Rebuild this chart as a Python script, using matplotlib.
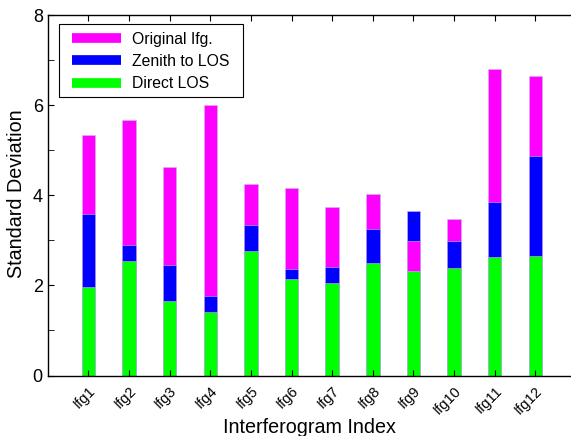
import matplotlib
matplotlib.use("Agg")
import matplotlib.pyplot as plt
from matplotlib.lines import Line2D
from matplotlib.patches import Rectangle
from matplotlib.ticker import MultipleLocator
import numpy as np

plt.rcParams['font.family'] = ['Liberation Sans', 'DejaVu Sans']

labels = ['Ifg1', 'Ifg2', 'Ifg3', 'Ifg4', 'Ifg5', 'Ifg6',
          'Ifg7', 'Ifg8', 'Ifg9', 'Ifg10', 'Ifg11', 'Ifg12']
original = [5.34, 5.68, 4.62, 6.01, 4.26, 4.17, 3.75, 4.03, 2.99, 3.48, 6.81, 6.64]
zenith = [3.59, 2.90, 2.46, 1.77, 3.34, 2.37, 2.40, 3.26, 3.64, 2.99, 3.84, 4.87]
direct = [1.96, 2.54, 1.66, 1.41, 2.77, 2.15, 2.06, 2.49, 2.32, 2.38, 2.63, 2.66]

series = [('Original Ifg.', original, '#ff00ff'),
          ('Zenith to LOS', zenith, '#0000ff'),
          ('Direct LOS', direct, '#00ff00')]

fig = plt.figure(figsize=(5.71, 4.36), dpi=100)
W, H = 571, 436
# one category step is about 40.64 px; the plot area runs off the right edge
left, top, bottom, step = 47.7, 15.0, 375.5, 40.64
right = 700.0
xmax = (right - left) / step
aw, ah = right - left, bottom - top
ax = fig.add_axes([left / W, 1 - bottom / H, aw / W, ah / H])

x = np.arange(1, len(labels) + 1)
width = 0.33
# overlapping bars: at each index draw the tallest first so shorter ones stay visible
for i, xi in enumerate(x):
    vals = [(s[1][i], s[2]) for s in series]
    for v, c in sorted(vals, key=lambda t: -t[0]):
        ax.bar(xi, v, width=width, color=c, edgecolor='#c8b8f0', linewidth=0.4)

ax.set_xlim(0, xmax)
ax.set_ylim(0, 8)
ax.set_xticks(x)
ax.set_xticklabels(labels, rotation=45, ha='right', rotation_mode='anchor', fontsize=10.5)
ax.yaxis.set_major_locator(MultipleLocator(2))
ax.yaxis.set_minor_locator(MultipleLocator(1))
ax.tick_params(axis='both', which='both', direction='in', top=True, right=False)
ax.tick_params(axis='y', which='major', labelsize=13, length=4)
ax.tick_params(axis='y', which='minor', length=4)
ax.tick_params(axis='x', length=4, pad=6)
ax.spines['right'].set_visible(False)
for sp in ax.spines.values():
    sp.set_linewidth(1.0)

ax.set_xlabel('Interferogram Index', fontsize=14.2)
ax.xaxis.set_label_coords((309.0 - left) / aw, (bottom - 418.0) / ah)
ax.set_ylabel('Standard Deviation', fontsize=14.2)
ax.yaxis.set_label_coords((26.0 - left) / aw, (bottom - 194.0) / ah)

# legend entries without frame, plus a wider box drawn around them
handles = [Line2D([0], [0], color=c, lw=7, solid_capstyle='butt') for _, _, c in series]
leg = ax.legend(handles, [s[0] for s in series], loc='upper left',
                bbox_to_anchor=((72.0 - left) / aw, 0.954), fontsize=11.3, frameon=False,
                handlelength=3.1, handletextpad=0.75, labelspacing=0.46,
                borderpad=0, borderaxespad=0)
leg.set_zorder(6)
ax.add_patch(Rectangle(((59.3 - left) / aw, 0.773), 183.4 / aw, 0.201,
                       transform=ax.transAxes, facecolor='white',
                       edgecolor='black', linewidth=0.8, zorder=5))

fig.savefig('out.png', dpi=100)
